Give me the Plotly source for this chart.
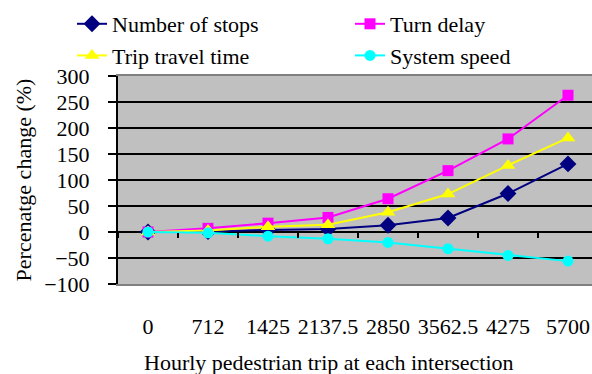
import plotly.graph_objects as go

categories = ["0", "712", "1425", "2137.5", "2850", "3562.5", "4275", "5700"]
number_of_stops = [0, 1, 4, 6, 13, 27, 74, 131]
turn_delay = [0, 7, 17, 28, 64, 118, 179, 263]
trip_travel_time = [0, 3, 10, 14, 38, 73, 128, 181]
system_speed = [0, -1.5, -8, -13, -20, -32, -45, -56]
y_ticks = [-100, -50, 0, 50, 100, 150, 200, 250, 300]

FONT = "Times New Roman"
W, H = 592, 374
L, R, T, B = 118, 0, 76, 90
pw = W - L - R
ph = H - T - B

fig = go.Figure()
fig.add_trace(go.Scatter(x=categories, y=number_of_stops, name="Number of stops",
                         mode="lines+markers", line=dict(color="#000080", width=2),
                         marker=dict(symbol="diamond", size=13, color="#000080"),
                         legend="legend"))
fig.add_trace(go.Scatter(x=categories, y=turn_delay, name="Turn delay",
                         mode="lines+markers", line=dict(color="#FF00FF", width=2),
                         marker=dict(symbol="square", size=11, color="#FF00FF"),
                         legend="legend2"))
fig.add_trace(go.Scatter(x=categories, y=trip_travel_time, name="Trip travel time",
                         mode="lines+markers", line=dict(color="#FFFF00", width=2),
                         marker=dict(symbol="triangle-up", size=13, color="#FFFF00"),
                         legend="legend"))
fig.add_trace(go.Scatter(x=categories, y=system_speed, name="System speed",
                         xaxis="x2",
                         mode="lines+markers", line=dict(color="#00FFFF", width=2),
                         marker=dict(symbol="circle", size=11, color="#00FFFF"),
                         legend="legend2"))

xr = [-0.5, -0.5 + pw / 60.0]
zero_pos = (0 - y_ticks[0]) / (y_ticks[-1] - y_ticks[0])

leg_common = dict(font=dict(family=FONT, size=22, color="black"),
                  bgcolor="rgba(0,0,0,0)", orientation="v", tracegroupgap=0,
                  xanchor="left", yanchor="top", itemwidth=30)

fig.update_layout(
    width=W, height=H,
    margin=dict(l=L, r=R, t=T, b=B, pad=0),
    paper_bgcolor="white",
    plot_bgcolor="#C0C0C0",
    font=dict(family=FONT, size=22, color="black"),
    legend=dict(x=(72 - L) / pw, y=1 + (T - 3) / ph, **leg_common),
    legend2=dict(x=(350 - L) / pw, y=1 + (T - 3) / ph, **leg_common),
    xaxis=dict(type="category", categoryorder="array", categoryarray=categories,
               range=xr, showgrid=False, zeroline=False,
               showline=True, linecolor="#808080", linewidth=2, mirror=True,
               ticks="", ticklabelstandoff=22,
               tickfont=dict(family=FONT, size=22, color="black")),
    xaxis2=dict(type="category", categoryorder="array", categoryarray=categories,
                overlaying="x", anchor="free", position=zero_pos, range=xr,
                side="bottom", tickson="boundaries",
                ticks="outside", ticklen=5, tickwidth=1.5, tickcolor="black",
                showticklabels=False, showgrid=False, zeroline=False,
                showline=False),
    yaxis=dict(range=[y_ticks[0], y_ticks[-1]], tickmode="array", tickvals=y_ticks,
               showgrid=True, gridcolor="black", gridwidth=1.5,
               zeroline=True, zerolinecolor="black", zerolinewidth=1.5,
               showline=True, linecolor="black", linewidth=2,
               ticks="outside", ticklen=8, tickwidth=1.5, tickcolor="black",
               ticklabelstandoff=14,
               tickfont=dict(family=FONT, size=22, color="black"),
               title=dict(text="Percenatge change (%)", standoff=6,
                          font=dict(family=FONT, size=22, color="black"))),
    showlegend=True,
)

fig.add_annotation(text="Hourly pedestrian trip at each intersection",
                   xref="paper", yref="paper", x=(329 - L) / pw, y=-(362 - (T + ph)) / ph,
                   xanchor="center", yanchor="middle", showarrow=False,
                   font=dict(family=FONT, size=22, color="black"))

fig.write_html("out.html")
